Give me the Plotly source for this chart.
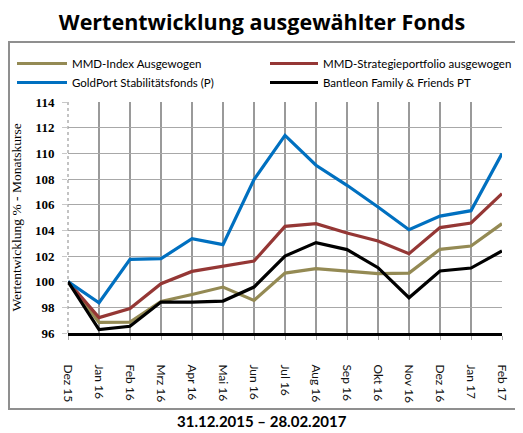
import plotly.graph_objects as go

categories = ["Dez 15", "Jan 16", "Feb 16", "Mrz 16", "Apr 16", "Mai 16", "Jun 16", "Jul 16",
              "Aug 16", "Sep 16", "Okt 16", "Nov 16", "Dez 16", "Jan 17", "Feb 17"]

mmd_index = [100, 96.83, 96.85, 98.45, 99.0, 99.58, 98.54, 100.67, 101.01, 100.8, 100.62, 100.67, 102.52, 102.78, 104.52]
mmd_strategie = [100, 97.2, 97.9, 99.84, 100.8, 101.22, 101.6, 104.31, 104.52, 103.79, 103.17, 102.18, 104.21, 104.57, 106.86]
goldport = [100, 98.36, 101.74, 101.79, 103.35, 102.89, 107.95, 111.4, 109.07, 107.51, 105.82, 104.05, 105.11, 105.53, 109.98]
bantleon = [100, 96.26, 96.52, 98.41, 98.41, 98.49, 99.58, 102.0, 103.04, 102.5, 101.09, 98.75, 100.83, 101.06, 102.39]

series_names = ["MMD-Index Ausgewogen", "GoldPort Stabilitätsfonds (P)",
                "MMD-Strategieportfolio ausgewogen", "Bantleon Family & Friends PT"]
series_values = [mmd_index, goldport, mmd_strategie, bantleon]
series_colors = ["#948A54", "#0070C0", "#953735", "#000000"]
series_legend = ["legend", "legend", "legend2", "legend2"]
draw_order = [0, 2, 1, 3]

y_ticks = [96, 98, 100, 102, 104, 106, 108, 110, 112, 114]

title_text = "Wertentwicklung ausgewählter Fonds"
subtitle_text = "31.12.2015 – 28.02.2017"
y_title = "Wertentwicklung % - Monatskurse"

# the page body has an 8px default margin; the figure is sized to fill the rest of the window
OFF = 8
W_FIG, H_FIG = 523 - OFF, 433 - OFF
ML, MR, MT, MB = 60, 21, 94, 100
PW = W_FIG - ML - MR
PH = H_FIG - MT - MB


def px_x(X):
    return (X - OFF - ML) / PW


def px_y(Y):
    return (H_FIG - MB - (Y - OFF)) / PH


fig = go.Figure()
for i in draw_order:
    fig.add_trace(go.Scatter(x=list(range(len(categories))), y=series_values[i], name=series_names[i],
                             mode="lines", legend=series_legend[i], legendrank=i,
                             line=dict(color=series_colors[i], width=3.2)))

sans = "Lato"
serif = "Liberation Serif"
legend_font = dict(family=sans, size=11.5, color="black")

fig.update_layout(
    width=W_FIG, height=H_FIG,
    margin=dict(l=ML, r=MR, t=MT, b=MB, autoexpand=False),
    paper_bgcolor="white", plot_bgcolor="white",
    title=dict(text="<b>" + title_text + "</b>", x=(262 - OFF) / W_FIG, xanchor="center", xref="container",
               y=1 - (22 - OFF) / H_FIG, yanchor="middle", font=dict(family="Open Sans", size=21.5, color="black")),
    legend=dict(orientation="v", x=px_x(12), y=px_y(49), xanchor="left", yanchor="top",
                itemwidth=50, font=legend_font, bgcolor="rgba(0,0,0,0)", traceorder="normal"),
    legend2=dict(orientation="v", x=px_x(265), y=px_y(49), xanchor="left", yanchor="top",
                 itemwidth=48, font=legend_font, bgcolor="rgba(0,0,0,0)", traceorder="normal"),
    showlegend=True,
    xaxis=dict(range=[0, len(categories) - 1], tickmode="array", automargin=False,
               tickvals=list(range(len(categories))), ticktext=categories,
               tickangle=90, showgrid=True, gridcolor="#9a9a9a", gridwidth=2,
               showline=True, linecolor="black", linewidth=3,
               ticks="outside", ticklen=4, tickcolor="#aaaaaa", ticklabelstandoff=22,
               tickfont=dict(family=sans, size=12, color="#111111"), zeroline=False),
    yaxis=dict(range=[96, 114], tickvals=y_ticks, showgrid=True, gridcolor="#a8a8a8", gridwidth=1.2,
               ticks="outside", ticklen=5, tickcolor="#c8c8c8", ticklabelstandoff=5, automargin=False,
               tickfont=dict(family=serif, size=13, color="black", weight="bold"), zeroline=False,
               showline=False,
               title=dict(text=y_title, font=dict(family=serif, size=13.5, color="black"), standoff=10)),
    shapes=[
        dict(type="rect", xref="paper", yref="paper", x0=px_x(9), x1=px_x(516), y0=px_y(409), y1=px_y(42),
             line=dict(color="#8f8f8f", width=2), layer="below"),
        dict(type="line", xref="paper", yref="paper", x0=0, x1=0, y0=0, y1=1,
             line=dict(color="white", width=3), layer="between"),
        dict(type="line", xref="paper", yref="paper", x0=0, x1=0, y0=0, y1=1,
             line=dict(color="#b0b0b0", width=1.5, dash="dot"), layer="between"),
    ],
    annotations=[
        dict(text="<b>" + subtitle_text + "</b>", xref="paper", yref="paper", x=px_x(262), y=px_y(421),
             xanchor="center", yanchor="middle", showarrow=False,
             font=dict(family=sans, size=15, color="black")),
    ],
)

fig.write_html("out.html", config={"displayModeBar": False})
